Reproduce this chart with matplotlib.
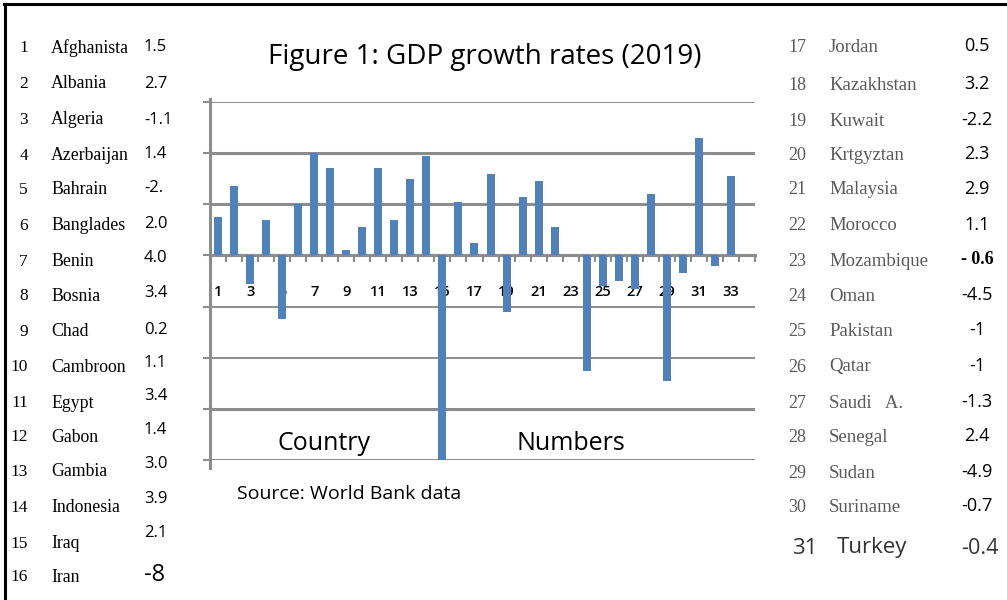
import matplotlib
matplotlib.use("Agg")
import matplotlib.pyplot as plt
from matplotlib.lines import Line2D
import numpy as np

# ---------------- data ----------------
left_nums = list(range(1, 17))
left_names = ["Afghanista", "Albania", "Algeria", "Azerbaijan", "Bahrain", "Banglades",
              "Benin", "Bosnia", "Chad", "Cambroon", "Egypt", "Gabon", "Gambia",
              "Indonesia", "Iraq", "Iran"]
left_vals = ["1.5", "2.7", "-1.1", "1.4", "-2.", "2.0", "4.0", "3.4", "0.2", "1.1",
             "3.4", "1.4", "3.0", "3.9", "2.1", "-8"]

right_nums = list(range(17, 32))
right_names = ["Jordan", "Kazakhstan", "Kuwait", "Krtgyztan", "Malaysia", "Morocco",
               "Mozambique", "Oman", "Pakistan", "Qatar", "Saudi   A.", "Senegal",
               "Sudan", "Suriname", "Turkey"]
right_vals = ["0.5", "3.2", "-2.2", "2.3", "2.9", "1.1", "- 0.6", "-4.5", "-1", "-1",
              "-1.3", "2.4", "-4.9", "-0.7", "-0.4"]

# bar heights as drawn in the chart (country numbers 1..33)
bar_nums = list(range(1, 34))
bar_vals = [1.5, 2.7, -1.1, 1.4, -2.5, 2.0, 4.0, 3.4, 0.2, 1.1,
            3.4, 1.4, 3.0, 3.9, -8.0, 2.1, 0.5, 3.2, -2.2, 2.3,
            2.9, 1.1, 0.0, -4.5, -1.2, -1.0, -1.3, 2.4, -4.9, -0.7,
            4.6, -0.4, 3.1]
x_labels = [str(n) for n in bar_nums[::2]]
grid_levels = [6, 4, 2, 0, -2, -4, -6, -8]
grid_widths = [1.4, 2.2, 2.2, 2.2, 1.4, 1.4, 2.2, 2.2]

W, H = 1007, 600
fig = plt.figure(figsize=(W / 100, H / 100), dpi=100)
fig.patch.set_facecolor("white")

def fx(px):
    return px / W

def fy(py):
    return 1 - py / H

# ---------------- chart ----------------
ax = fig.add_axes([fx(210), fy(460), fx(755) - fx(210), fy(102) - fy(460)])
ax.set_xlim(0.5, 34.5)
ax.set_ylim(-8, 6)
for s in ax.spines.values():
    s.set_visible(False)

gcol = "#8c8c8c"
for lvl, lw in zip(grid_levels, grid_widths):
    ax.axhline(lvl, color=gcol, lw=lw, zorder=1)

ax.bar(bar_nums, bar_vals, width=0.5, color="#4F81BD", zorder=3)

# x axis ticks on zero line
ax.spines["bottom"].set_visible(True)
ax.spines["bottom"].set_position(("data", 0))
ax.spines["bottom"].set_color(gcol)
ax.spines["bottom"].set_linewidth(2.2)
ax.set_xticks(np.arange(0.5, 35, 1.0))
ax.set_xticklabels([])
ax.tick_params(axis="x", which="major", direction="out", length=5, width=1.5, color=gcol)
ax.set_xticks(bar_nums[::2], minor=True)
ax.set_xticklabels(x_labels, minor=True, fontsize=10.5, family="Open Sans",
                   color="black", weight="semibold")
ax.tick_params(axis="x", which="minor", length=0, pad=21)

# y axis (labels clipped off in the original)
ax.spines["left"].set_visible(True)
ax.spines["left"].set_color(gcol)
ax.spines["left"].set_linewidth(2.2)
ax.spines["left"].set_bounds(-8.3, 6.1)
ax.set_yticks(grid_levels)
ax.set_yticklabels([])
ax.tick_params(axis="y", direction="out", length=5, width=1.5, color=gcol)

ax.text(0.209, 0.045, "Country", transform=ax.transAxes, fontsize=18,
        family="Open Sans", ha="center", va="center", color="black", zorder=5)
ax.text(0.662, 0.045, "Numbers", transform=ax.transAxes, fontsize=18,
        family="Open Sans", ha="center", va="center", color="black", zorder=5)

# ---------------- texts ----------------
fig.text(fx(485), fy(57), "Figure 1: GDP growth rates (2019)", fontsize=20,
         family="Open Sans", ha="center", va="center", color="black")
fig.text(fx(237), fy(494), "Source: World Bank data", fontsize=14,
         family="Open Sans", ha="left", va="center", color="black")

# left table
name_y = [48, 84, 120, 156, 190, 226, 262, 296, 332, 367, 403, 437, 472, 508, 544, 577]
val_y = [47, 84, 120, 154, 188, 224, 258, 293, 330, 363, 396, 430, 464, 499, 533, 575]
for i in range(16):
    fig.text(fx(28), fy(name_y[i]), str(left_nums[i]), fontsize=12.5,
             family="Liberation Serif", ha="right", va="center", color="black")
    fig.text(fx(51), fy(name_y[i]), left_names[i], fontsize=12.8,
             family="Liberation Serif", ha="left", va="center", color="black")
    fs = 17 if i == 15 else 12
    fig.text(fx(144), fy(val_y[i]), left_vals[i], fontsize=fs,
             family="Open Sans", ha="left", va="center", color="black")

# right table
r_y = [47, 85, 121, 155, 190, 226, 261, 296, 331, 367, 403, 437, 473, 507, 548]
for i in range(15):
    if i == 14:
        fig.text(fx(805), fy(r_y[i]), str(right_nums[i]), fontsize=16,
                 family="Open Sans", ha="center", va="center", color="#333333")
        fig.text(fx(837), fy(r_y[i]), right_names[i], fontsize=16,
                 family="Open Sans", ha="left", va="center", color="#333333")
        fig.text(fx(980), fy(r_y[i]), right_vals[i], fontsize=15.5,
                 family="Open Sans", ha="center", va="center", color="#333333")
        continue
    fig.text(fx(797), fy(r_y[i]), str(right_nums[i]), fontsize=13,
             family="Liberation Serif", ha="center", va="center", color="#595959")
    fig.text(fx(829), fy(r_y[i]), right_names[i], fontsize=13.5,
             family="Liberation Serif", ha="left", va="center", color="#595959")
    if right_vals[i].startswith("- "):
        fig.text(fx(977), fy(r_y[i] - 1), right_vals[i], fontsize=13,
                 family="Liberation Serif", weight="bold", ha="center",
                 va="center", color="black")
    else:
        fig.text(fx(977), fy(r_y[i] - 1), right_vals[i], fontsize=13,
                 family="Open Sans", ha="center", va="center", color="black")

# frame lines (top and left edges)
fig.add_artist(Line2D([fx(4), 1], [fy(4), fy(4)], color="black", lw=2.2,
                      transform=fig.transFigure))
fig.add_artist(Line2D([fx(4.5), fx(4.5)], [fy(4), 0], color="black", lw=2.2,
                      transform=fig.transFigure))

fig.savefig("out.png", dpi=100)
